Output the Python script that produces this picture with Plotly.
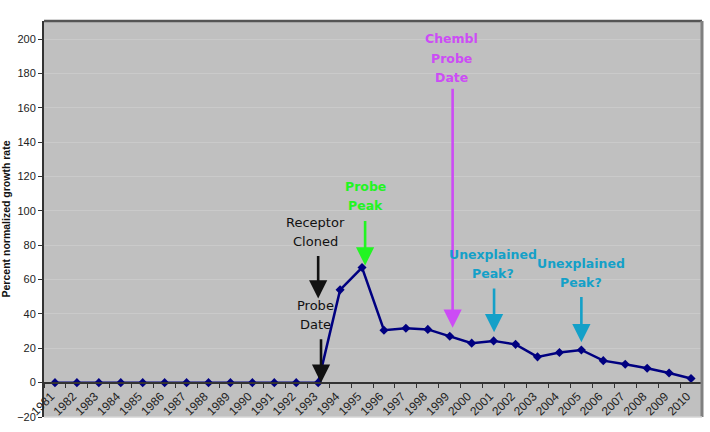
import plotly.graph_objects as go

years = [str(y) for y in range(1981, 2011)]
growth = [0, 0, 0, 0, 0, 0, 0, 0, 0, 0, 0, 0, 0,
          54, 67, 30.5, 31.7, 31, 27, 23, 24.3, 22.3, 15, 17.5, 19,
          12.8, 10.7, 8.4, 5.6, 2.4]

y_title = "Percent normalized growth rate"

# annotation labels: text lines, colour, bold, x index, text y, arrow x, arrow tail y, arrow tip y
labels = [
    (["Receptor", "Cloned"], "#111111", False, 11.86, 87.8, 12.0, 74.6, 49),
    (["Probe", "Date"], "#111111", False, 11.9, 39.4, 12.13, 26.2, 0),
    (["Probe", "Peak"], "#22f522", True, 14.14, 108.5, 14.14, 95, 68.2),
    (["Chembl", "Probe", "Date"], "#cc4cf5", True, 18.1, 188.7, 18.13, 172, 32),
    (["Unexplained", "Peak?"], "#14a0c8", True, 19.97, 69.1, 20.02, 55.6, 29.3),
    (["Unexplained", "Peak?"], "#14a0c8", True, 23.99, 63.7, 24.0, 50.7, 23.5),
]

fig = go.Figure()
fig.add_trace(go.Scatter(
    x=years, y=growth, mode="lines+markers",
    line=dict(color="#000080", width=2.5),
    marker=dict(symbol="diamond", size=7, color="#000080"),
    showlegend=False, hoverinfo="skip",
))

ymin, ymax = -20, 210.5
line_gap = 19.5
annotations = []
for lines, color, bold, xt, yt, xa, ytail, ytip in labels:
    n = len(lines)
    for i, ln in enumerate(lines):
        annotations.append(dict(
            x=xt, y=yt, xref="x", yref="y", showarrow=False,
            yshift=((n - 1) / 2 - i) * line_gap,
            text=f"<b>{ln}</b>" if bold else ln,
            font=dict(family="DejaVu Sans", size=12.5 if bold else 13, color=color),
            xanchor="center", yanchor="middle",
        ))
    annotations.append(dict(
        x=xa, y=ytip, ax=xa, ay=ytail, xref="x", yref="y", axref="x", ayref="y",
        text="", showarrow=True, arrowhead=2, arrowsize=1.4, arrowwidth=2.6,
        arrowcolor=color, standoff=0, startstandoff=0,
    ))

fig.update_layout(
    template="none",
    width=710, height=432,
    margin=dict(l=44, r=8, t=21, b=15),
    paper_bgcolor="white",
    plot_bgcolor="#c0c0c0",
    annotations=annotations,
    xaxis=dict(
        type="category", categoryorder="array", categoryarray=years,
        range=[-0.5, 29.5], anchor="free", position=(0 - ymin) / (ymax - ymin),
        showline=True, linecolor="#333333", linewidth=2,
        ticks="outside", ticklen=4, tickcolor="#333333", tickson="boundaries",
        tickangle=-45, showgrid=False, zeroline=False, automargin=False,
        ticklabelshift=-4, ticklabelstandoff=1,
        tickfont=dict(family="Liberation Sans", size=12, color="#222222"),
    ),
    yaxis=dict(
        range=[ymin, ymax], tickvals=list(range(-20, 201, 20)),
        showline=True, linecolor="#333333", linewidth=2,
        ticks="outside", ticklen=4, tickcolor="#333333",
        showgrid=True, gridcolor="#cacaca", gridwidth=1, zeroline=False,
        automargin=False,
        tickfont=dict(family="Liberation Sans", size=11, color="#222222"),
        title=dict(text=f"<b>{y_title}</b>", standoff=8,
                   font=dict(family="Liberation Sans", size=10.5, color="#111111")),
    ),
    shapes=[
        dict(type="line", xref="paper", yref="paper", x0=0, x1=1, y0=1, y1=1,
             line=dict(color="#555555", width=2.5)),
        dict(type="line", xref="paper", yref="paper", x0=1, x1=1, y0=0, y1=1,
             line=dict(color="#808080", width=3)),
        dict(type="line", xref="paper", yref="paper", x0=0, x1=1, y0=0, y1=0,
             line=dict(color="#d6d6d6", width=1.5)),
    ],
)

fig.write_html("out.html", config={"displayModeBar": False},
               post_script="document.body.style.margin='0';document.body.style.overflow='hidden';")
